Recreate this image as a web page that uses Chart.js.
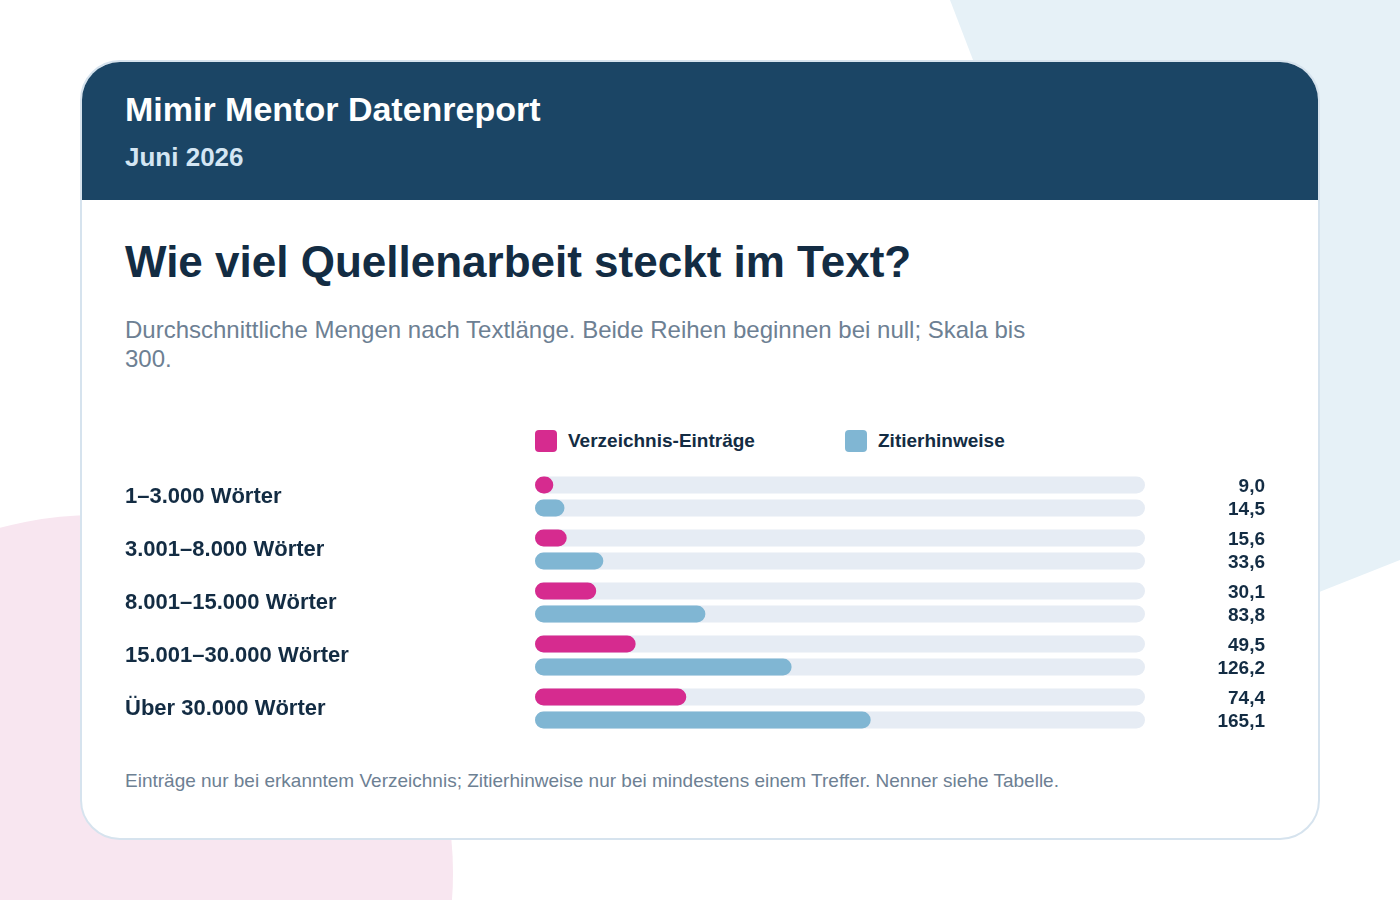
<!DOCTYPE html>
<html lang="de">
<head>
<meta charset="utf-8">
<title>Mimir Mentor Datenreport</title>
<script src="https://cdn.jsdelivr.net/npm/chart.js@4/dist/chart.umd.min.js"></script>
<style>
  html, body { margin: 0; padding: 0; }
  body {
    width: 1400px; height: 900px; position: relative; overflow: hidden;
    background: #ffffff;
    font-family: "Liberation Sans", Arial, Helvetica, sans-serif;
  }
  .bg-blue {
    position: absolute; left: 0; top: 0; width: 1400px; height: 900px;
    background: #e6f1f7;
    clip-path: polygon(950px 0, 1400px 0, 1400px 560px, 1196px 641px);
  }
  .bg-pink {
    position: absolute; left: -263px; top: 515px; width: 716px; height: 716px;
    border-radius: 50%; background: #f8e6f0;
  }
  .card {
    position: absolute; left: 80px; top: 60px; width: 1240px; height: 780px;
    box-sizing: border-box; border: 2px solid #d6e3ee; border-radius: 40px;
    background: #ffffff; overflow: hidden;
  }
  .header {
    position: absolute; left: 0; top: 0; right: 0; height: 138px;
    background: #1b4565;
  }
  .abs { position: absolute; white-space: nowrap; }
  #brand { left: 125px; top: 90px; font-size: 34px; line-height: 38px; font-weight: bold; color: #ffffff; }
  #month { left: 125px; top: 142px; font-size: 26px; line-height: 30px; font-weight: bold; color: #d4e6f3; }
  #title { left: 125px; top: 237px; font-size: 44px; line-height: 50px; font-weight: bold; color: #132c43; }
  #subtitle {
    position: absolute; left: 125px; top: 315px; width: 930px;
    font-size: 24px; line-height: 29px; color: #6d8093;
  }
  #legend { left: 535px; top: 430px; display: flex; }
  .leg-item { display: flex; align-items: center; width: 310px; font-size: 19px; font-weight: bold; color: #132c43; }
  .leg-box { width: 22px; height: 22px; border-radius: 4px; margin-right: 11px; }
  #note { left: 125px; top: 770px; font-size: 19px; line-height: 22px; color: #6d8093; }
  #chartWrap { position: absolute; left: 125px; top: 470px; width: 1140px; height: 265px; }
</style>
</head>
<body>
<div class="bg-blue"></div>
<div class="bg-pink"></div>
<div class="card"><div class="header"></div></div>

<div class="abs" id="brand">Mimir Mentor Datenreport</div>
<div class="abs" id="month">Juni 2026</div>
<div class="abs" id="title">Wie viel Quellenarbeit steckt im Text?</div>
<div id="subtitle">Durchschnittliche Mengen nach Textlänge. Beide Reihen beginnen bei null; Skala bis 300.</div>
<div class="abs" id="legend"></div>
<div id="chartWrap"><canvas id="quellenChart"></canvas></div>
<div class="abs" id="note">Einträge nur bei erkanntem Verzeichnis; Zitierhinweise nur bei mindestens einem Treffer. Nenner siehe Tabelle.</div>

<script>
// Daten aus dem Report
const categories = ['1–3.000 Wörter', '3.001–8.000 Wörter', '8.001–15.000 Wörter', '15.001–30.000 Wörter', 'Über 30.000 Wörter'];
const verzeichnisEintraege = [9.0, 15.6, 30.1, 49.5, 74.4];
const zitierhinweise = [14.5, 33.6, 83.8, 126.2, 165.1];
const seriesLabels = ['Verzeichnis-Einträge', 'Zitierhinweise'];
const scaleMax = 300;

const pink = '#d62b8f';
const blue = '#80b6d3';
const track = '#e6ecf4';
const ink = '#132c43';
const fontFamily = '"Liberation Sans", Arial, Helvetica, sans-serif';

function formatDe(v) {
    return v.toFixed(1).replace('.', ',');
}

// grey track behind every bar, from 0 to the scale max
const trackPlugin = {
    id: 'tracks',
    beforeDatasetsDraw(chart) {
        const ctx = chart.ctx;
        const x = chart.scales.x;
        const x0 = x.getPixelForValue(0);
        const x1 = x.getPixelForValue(scaleMax);
        ctx.save();
        ctx.fillStyle = track;
        chart.data.datasets.forEach((ds, i) => {
            chart.getDatasetMeta(i).data.forEach(bar => {
                const h = bar.height;
                ctx.beginPath();
                ctx.roundRect(x0, bar.y - h / 2, x1 - x0, h, h / 2);
                ctx.fill();
            });
        });
        ctx.restore();
    }
};

// value labels right-aligned at the canvas edge
const valuePlugin = {
    id: 'values',
    afterDatasetsDraw(chart) {
        const ctx = chart.ctx;
        ctx.save();
        ctx.font = 'bold 19px ' + fontFamily;
        ctx.fillStyle = ink;
        ctx.textAlign = 'right';
        ctx.textBaseline = 'middle';
        chart.data.datasets.forEach((ds, i) => {
            chart.getDatasetMeta(i).data.forEach((bar, j) => {
                ctx.fillText(formatDe(ds.data[j]), chart.width, bar.y + 2);
            });
        });
        ctx.restore();
    }
};

const ctx = document.getElementById('quellenChart').getContext('2d');
const quellenChart = new Chart(ctx, {
    type: 'bar',
    data: {
        labels: categories,
        datasets: [{
            label: seriesLabels[0],
            data: verzeichnisEintraege,
            backgroundColor: pink
        }, {
            label: seriesLabels[1],
            data: zitierhinweise,
            backgroundColor: blue
        }]
    },
    options: {
        indexAxis: 'y',
        responsive: true,
        maintainAspectRatio: false,
        animation: false,
        categoryPercentage: 0.869,
        barPercentage: 0.74,
        borderRadius: 10,
        borderSkipped: false,
        layout: { padding: { left: 0, right: 120, top: 0, bottom: 0 } },
        scales: {
            x: { min: 0, max: scaleMax, display: false },
            y: {
                grid: { display: false },
                border: { display: false },
                ticks: {
                    crossAlign: 'far',
                    color: ink,
                    font: { family: fontFamily, size: 22, weight: 'bold' }
                },
                afterFit(scale) {
                    scale.width = 410;
                    // labels sit at category centres, no extra room needed
                    scale.paddingTop = 0;
                    scale.paddingBottom = 0;
                }
            }
        },
        plugins: {
            legend: { display: false },
            tooltip: { enabled: false }
        }
    },
    plugins: [trackPlugin, valuePlugin]
});

// HTML legend from the datasets
const legendEl = document.getElementById('legend');
quellenChart.data.datasets.forEach(ds => {
    const item = document.createElement('div');
    item.className = 'leg-item';
    const box = document.createElement('span');
    box.className = 'leg-box';
    box.style.background = ds.backgroundColor;
    item.appendChild(box);
    item.appendChild(document.createTextNode(ds.label));
    legendEl.appendChild(item);
});
</script>
</body>
</html>
